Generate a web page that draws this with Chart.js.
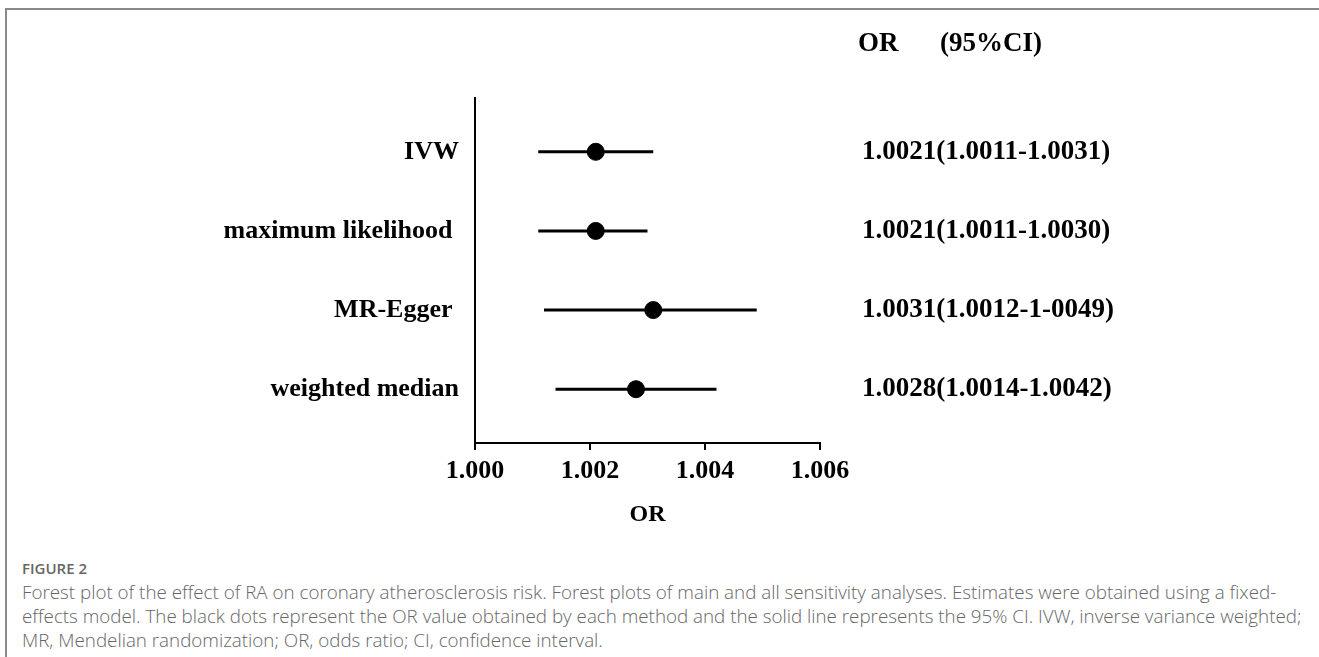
<!DOCTYPE html>
<html>
<head>
<meta charset="utf-8">
<script src="https://cdn.jsdelivr.net/npm/chart.js@4/dist/chart.umd.min.js"></script>
<style>
    html, body { margin: 0; padding: 0; background: #fff; }
    body { width: 1319px; height: 657px; position: relative; overflow: hidden; }
    #frame {
        position: absolute; left: 5px; top: 8px; width: 1330px; height: 700px;
        border-top: 2px solid #8a8a8a; border-left: 2px solid #8a8a8a;
    }
    #wrap { position: absolute; left: 0; top: 0; width: 1319px; height: 545px; }
    #caption {
        position: absolute; left: 22px; top: 556px; width: 1295px;
        font-family: 'Open Sans', sans-serif; font-weight: 300; color: #666;
        font-size: 18.8px; line-height: 24px; white-space: nowrap;
    }
    #caption .fig { font-size: 15px; font-weight: 600; line-height: 24px; }
</style>
</head>
<body>
<div id="frame"></div>
<div id="wrap"><canvas id="forestChart"></canvas></div>
<div id="caption">
    <div class="fig">FIGURE 2</div>
    Forest plot of the effect of RA on coronary atherosclerosis risk. Forest plots of main and all sensitivity analyses. Estimates were obtained using a fixed-<br>
    effects model. The black dots represent the OR value obtained by each method and the solid line represents the 95% CI. IVW, inverse variance weighted;<br>
    MR, Mendelian randomization; OR, odds ratio; CI, confidence interval.
</div>
<script>
(function forest () {
    'use strict';

    var methods = ['IVW', 'maximum likelihood ', 'MR-Egger ', 'weighted median'];
    var orValues = [1.0021, 1.0021, 1.0031, 1.0028];
    var ciLower = [1.0011, 1.0011, 1.0012, 1.0014];
    var ciUpper = [1.0031, 1.0030, 1.0049, 1.0042];
    var ciLabels = [
        '1.0021(1.0011-1.0031)',
        '1.0021(1.0011-1.0030)',
        '1.0031(1.0012-1-0049)',
        '1.0028(1.0014-1.0042)'
    ];
    var xTicks = [1.000, 1.002, 1.004, 1.006];

    var serif = 'Liberation Serif, Times New Roman, serif';
    var n = methods.length;

    function rowY (i) {
        return n - i;
    }

    var datasets = methods.map(function ciLine (name, i) {
        return {
            type: 'line',
            data: [{ x: ciLower[i], y: rowY(i) }, { x: ciUpper[i], y: rowY(i) }],
            borderColor: '#000',
            borderWidth: 3,
            pointRadius: 0,
            fill: false
        };
    });
    datasets.push({
        type: 'scatter',
        data: orValues.map(function (v, i) { return { x: v, y: rowY(i) }; }),
        backgroundColor: '#000',
        borderColor: '#000',
        pointRadius: 8.5,
        pointHoverRadius: 8.5
    });

    var header = {
        id: 'header',
        afterDraw: function (chart) {
            var c = chart.ctx;
            var s = chart.scales.y2;
            c.save();
            c.fillStyle = '#000';
            c.font = 'bold 27px ' + serif;
            c.textBaseline = 'middle';
            c.textAlign = 'left';
            c.fillText('OR', s.left + 38, 44);
            c.fillText('(95%CI)', s.left + 120, 44);
            c.restore();
        }
    };

    function rowTicks (axis) {
        axis.ticks = methods.map(function (m, i) { return { value: rowY(i) }; });
    }

    new Chart(document.getElementById('forestChart'), {
        type: 'scatter',
        data: { datasets: datasets },
        plugins: [header],
        options: {
            responsive: true,
            maintainAspectRatio: false,
            animation: false,
            layout: { padding: { top: 98 } },
            plugins: { legend: { display: false }, tooltip: { enabled: false } },
            scales: {
                x: {
                    type: 'linear',
                    min: 1.000,
                    max: 1.006,
                    afterBuildTicks: function (axis) {
                        axis.ticks = xTicks.map(function (v) { return { value: v }; });
                    },
                    afterFit: function (axis) { axis.height = 102; },
                    ticks: {
                        color: '#000',
                        font: { family: serif, size: 26, weight: 'bold' },
                        padding: 6,
                        maxRotation: 0,
                        callback: function (v) { return v.toFixed(3); }
                    },
                    grid: {
                        display: true,
                        drawOnChartArea: false,
                        drawTicks: true,
                        tickLength: 7,
                        color: '#000',
                        lineWidth: 2
                    },
                    border: { display: true, color: '#000', width: 2 },
                    title: {
                        display: true,
                        text: 'OR',
                        color: '#000',
                        font: { family: serif, size: 24, weight: 'bold' },
                        padding: { top: 4, bottom: 16 }
                    }
                },
                y: {
                    type: 'linear',
                    position: 'left',
                    min: 0.32,
                    max: n + 0.68,
                    afterBuildTicks: rowTicks,
                    afterFit: function (axis) { axis.width = 475; },
                    ticks: {
                        color: '#000',
                        font: { family: serif, size: 26, weight: 'bold' },
                        padding: 16,
                        callback: function (v) { return methods[n - v]; }
                    },
                    grid: { display: false, drawTicks: false },
                    border: { display: true, color: '#000', width: 2 }
                },
                y2: {
                    type: 'linear',
                    position: 'right',
                    min: 0.32,
                    max: n + 0.68,
                    afterBuildTicks: rowTicks,
                    afterFit: function (axis) { axis.width = 1319 - 820; },
                    ticks: {
                        color: '#000',
                        font: { family: serif, size: 27, weight: 'bold' },
                        padding: 42,
                        callback: function (v) { return ciLabels[n - v]; }
                    },
                    grid: { display: false, drawTicks: false },
                    border: { display: false }
                }
            }
        }
    });
}());
</script>
</body>
</html>
